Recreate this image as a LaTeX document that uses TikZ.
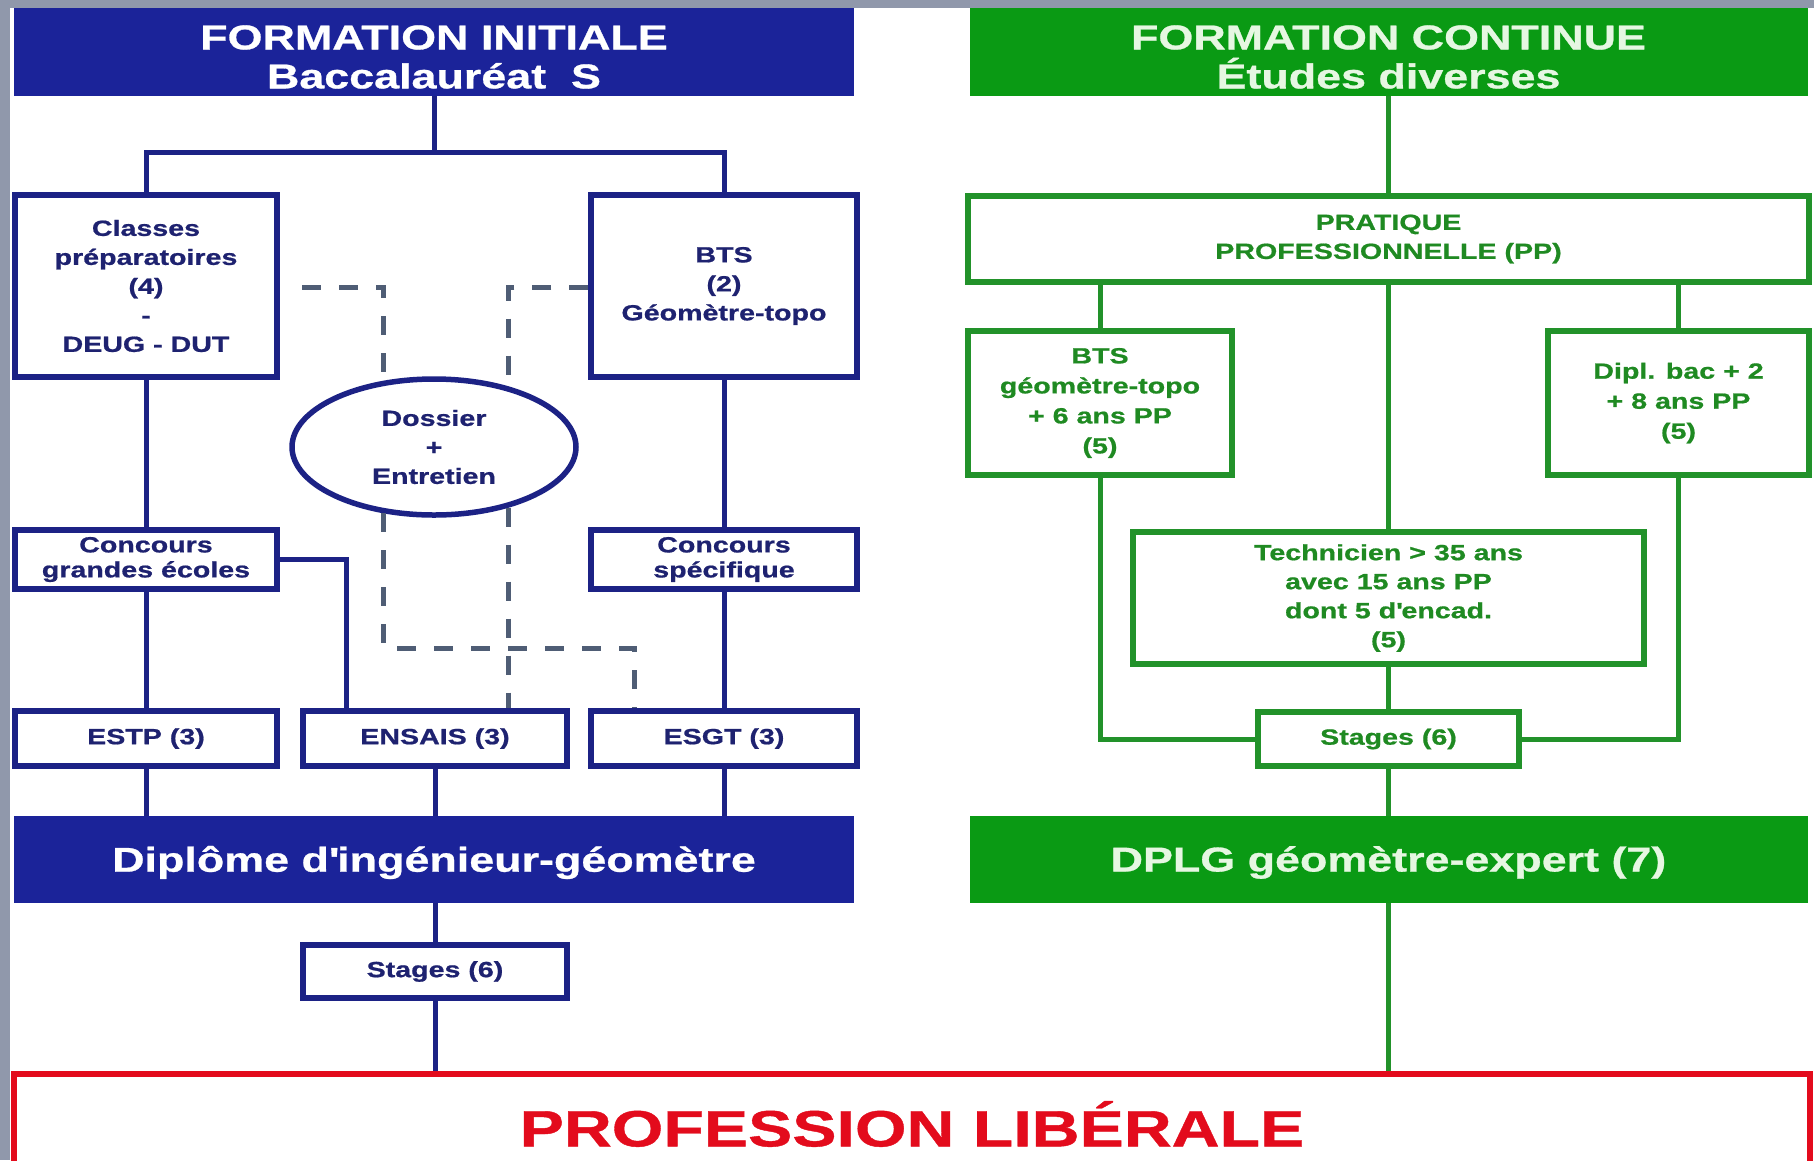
\documentclass[tikz,border=0pt]{standalone}
\usepackage{fontspec}
\setmainfont{Liberation Sans}[FakeStretch=1.3, BoldFeatures={FakeBold=0.8}]
\usetikzlibrary{shapes.geometric}
\definecolor{navy}{HTML}{1C2285}
\definecolor{navytext}{HTML}{1E2270}
\definecolor{hblue}{HTML}{1B2399}
\definecolor{gline}{HTML}{22922A}
\definecolor{gtext}{HTML}{1F8A22}
\definecolor{hgreen}{HTML}{0A9A14}
\definecolor{htextg}{HTML}{E6F7E2}
\definecolor{dashc}{HTML}{4F5D75}
\definecolor{redc}{HTML}{E30B1C}
\definecolor{greyc}{HTML}{9098AB}
\newcommand{\boxtxt}{\bfseries\fontsize{22}{29}\selectfont}
\newcommand{\hdrtxt}{\bfseries\fontsize{34.5}{39}\selectfont}
\begin{document}
\begin{tikzpicture}[x=1pt,y=-1pt,
  bbox/.style={rectangle, draw=navy, line width=5.5pt, fill=white, text=navytext,
    font=\boxtxt, align=center, inner sep=0pt},
  gbox/.style={rectangle, draw=gline, line width=5.5pt, fill=white, text=gtext,
    font=\boxtxt, align=center, inner sep=0pt},
  hdr/.style={rectangle, inner sep=0pt},
  hlab/.style={font=\hdrtxt, align=center, inner sep=0pt},
  bl/.style={draw=navy, line width=5pt},
  gl/.style={draw=gline, line width=5pt},
  dsh/.style={draw=dashc, line width=5pt, dash pattern=on 19pt off 18pt},
  sz/.style 2 args={minimum width=#1pt, minimum height=#2pt}]
\useasboundingbox (0,0) rectangle (1814,1160);
\fill[greyc] (0,0) rectangle (1814,1160);
\fill[white] (10,8) rectangle (1814,1160);

% ---- left: formation initiale
\node[hdr, fill=hblue, sz={840}{88},
  label={[hlab, text=white, yshift=-5pt]center:FORMATION INITIALE\\Baccalauréat\ \ S}] (hdrL) at (434,52) {};
\node[bbox, sz={262}{182}] (classes) at (146,286)
  {Classes\\préparatoires\\(4)\\-\\DEUG - DUT};
\node[bbox, sz={266}{182}] (bts) at (724,286)
  {BTS\\(2)\\Géomètre-topo};
\node[ellipse, draw=navy, line width=5.5pt, fill=white, text=navytext,
  font=\boxtxt, align=center, inner sep=0pt, sz={284}{136}] (ell) at (434,447)
  {Dossier\\+\\Entretien};
\node[bbox, sz={262}{59}, font=\bfseries\fontsize{22}{25}\selectfont] (cge) at (146,559.5)
  {Concours\\grandes écoles};
\node[bbox, sz={266}{59}, font=\bfseries\fontsize{22}{25}\selectfont] (csp) at (724,559.5)
  {Concours\\spécifique};
\node[bbox, sz={262}{55}] (estp) at (146,738.5) {ESTP (3)};
\node[bbox, sz={264}{55}] (ensais) at (435,738.5) {ENSAIS (3)};
\node[bbox, sz={266}{55}] (esgt) at (724,738.5) {ESGT (3)};
\node[hdr, fill=hblue, sz={840}{87},
  label={[hlab, text=white, yshift=-3pt]center:Diplôme d\textquotesingle ingénieur-géomètre}] (dipl) at (434,859.5) {};
\node[bbox, sz={264}{53}] (stagesL) at (435,971.5) {Stages (6)};

% ---- right: formation continue
\node[hdr, fill=hgreen, sz={838}{88},
  label={[hlab, text=htextg, yshift=-5pt]center:FORMATION CONTINUE\\Études diverses}] (hdrR) at (1388.5,52) {};
\node[gbox, sz={841}{86}] (prat) at (1388.5,239)
  {PRATIQUE\\PROFESSIONNELLE (PP)};
\node[gbox, sz={264}{144}, font=\bfseries\fontsize{22}{30}\selectfont] (btsg) at (1100,403)
  {BTS\\géomètre-topo\\+ 6 ans PP\\(5)};
\node[gbox, sz={261}{144}, font=\bfseries\fontsize{22}{30}\selectfont] (dipg) at (1678.5,403)
  {Dipl. bac + 2\\+ 8 ans PP\\(5)};
\node[gbox, sz={511}{132}] (tech) at (1388.5,598)
  {Technicien > 35 ans\\avec 15 ans PP\\dont 5 d\textquotesingle encad.\\(5)};
\node[gbox, sz={261}{54}] (stagesR) at (1388.5,739) {Stages (6)};
\node[hdr, fill=hgreen, sz={838}{87},
  label={[hlab, text=htextg, yshift=-3pt]center:DPLG géomètre-expert (7)}] (dplg) at (1388.5,859.5) {};

% ---- bottom
\node[rectangle, draw=redc, line width=5.5pt, fill=white, text=redc, inner sep=0pt,
  font=\bfseries\fontsize{51}{60}\selectfont, sz={1796}{100}] (prof) at (912,1124)
  {PROFESSION LIBÉRALE};

% ---- blue connectors
\draw[bl] (hdrL.south) -- (hdrL.south |- 0,152);
\draw[bl] (classes.north) |- (hdrL.south |- 0,152) -| (bts.north);
\draw[bl] (classes) -- (cge);
\draw[bl] (bts) -- (csp);
\draw[bl] (cge) -- (estp);
\draw[bl] (csp) -- (esgt);
\draw[bl] (cge.east) -| (ensais.north -| 346,0);
\draw[bl] (estp.south) -- (estp.south |- dipl.north);
\draw[bl] (ensais.south) -- (ensais.south |- dipl.north);
\draw[bl] (esgt.south) -- (esgt.south |- dipl.north);
\draw[bl] (dipl.south -| stagesL.north) -- (stagesL.north);
\draw[bl] (stagesL.south) -- (stagesL.south |- prof.north);

% ---- dashed connectors
\coordinate (dl) at (302,287);
\draw[dsh] (dl) -| (ell.127.5);
\draw[dsh] (bts.west |- 0,287) -| (ell.39.1);
\draw[dsh] (ell.-127.5) |- (634,648) -- (esgt.north -| 634,0);
\draw[dsh] (ell.-39.1) -- (ensais.north -| ell.-39.1);

% ---- green connectors
\draw[gl] (hdrR.south) -- (prat.north);
\draw[gl] (btsg.north) -- (btsg.north |- prat.south);
\draw[gl] (dipg.north) -- (dipg.north |- prat.south);
\draw[gl] (tech.north) -- (tech.north |- prat.south);
\draw[gl] (btsg.south) |- (stagesR.west);
\draw[gl] (dipg.south) |- (stagesR.east);
\draw[gl] (tech.south) -- (stagesR.north);
\draw[gl] (stagesR.south) -- (dplg.north);
\draw[gl] (dplg.south) -- (dplg.south |- prof.north);
\end{tikzpicture}
\end{document}
